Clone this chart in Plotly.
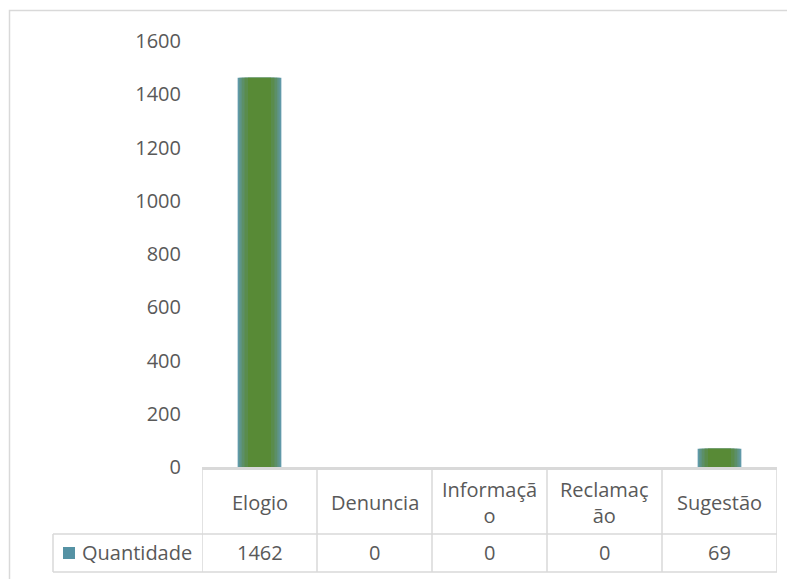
import plotly.graph_objects as go

categorias = ["Elogio", "Denuncia", "Informação", "Reclamação", "Sugestão"]
rotulos = ["Elogio", "Denuncia", "Informaçã<br>o", "Reclamaç<br>ão", "Sugestão"]
quantidade = [1462, 0, 0, 0, 69]
serie = "Quantidade"
y_ticks = [0, 200, 400, 600, 800, 1000, 1200, 1400, 1600]

FONT = "Open Sans"
TXT = "#595959"
GRID = "#d9d9d9"
FS = 20

# page has an 8px body margin, so positions below are page pixels minus 8
OFF = 8
W, H = 795 - OFF, 579 - OFF
L, T = 202 - OFF, 41 - OFF
pw, ph = 575, 426
R, B = W - L - pw, H - T - ph


def px(x):
    return (x - OFF - L) / pw


def py(y):
    return (T + ph - (y - OFF)) / ph


fig = go.Figure()
# pseudo-gradient: teal edges, green centre
for w, c in [(0.38, "#6099a8"), (0.35, "#5e9488"), (0.31, "#5c8f68"),
             (0.26, "#5a8c4c"), (0.2, "#588a36")]:
    fig.add_trace(go.Bar(
        x=list(range(len(categorias))), y=quantidade, width=w,
        marker=dict(color=c, line=dict(width=0)),
        name=serie, showlegend=False, hoverinfo="skip",
    ))

shapes = []
# frame of the chart (right and bottom edges fall outside the window)
shapes.append(dict(type="rect", xref="paper", yref="paper",
                   x0=px(9.5), x1=px(830), y0=py(640), y1=py(10.5),
                   line=dict(color=GRID, width=1.5), layer="below"))
# axis line
shapes.append(dict(type="line", xref="paper", yref="paper",
                   x0=0, x1=1, y0=py(468.5), y1=py(468.5),
                   line=dict(color=GRID, width=3)))
# table horizontal lines
for yy in [534, 572]:
    shapes.append(dict(type="line", xref="paper", yref="paper",
                       x0=px(53), x1=1, y0=py(yy), y1=py(yy),
                       line=dict(color=GRID, width=1.5)))
# table vertical lines
for i in range(len(categorias) + 1):
    shapes.append(dict(type="line", xref="x", yref="paper",
                       x0=i - 0.5, x1=i - 0.5, y0=py(468), y1=py(572),
                       line=dict(color=GRID, width=1.5)))
shapes.append(dict(type="line", xref="paper", yref="paper",
                   x0=px(53), x1=px(53), y0=py(534), y1=py(572),
                   line=dict(color=GRID, width=1.5)))
# legend key
shapes.append(dict(type="rect", xref="paper", yref="paper",
                   x0=px(63), x1=px(75), y0=py(559), y1=py(547),
                   fillcolor="#5592a4", line=dict(width=0)))

annotations = []
for i, (lab, val) in enumerate(zip(rotulos, quantidade)):
    annotations.append(dict(x=i, xref="x", y=py(503), yref="paper", text=lab,
                            showarrow=False, yanchor="middle",
                            font=dict(size=FS, color=TXT, family=FONT)))
    annotations.append(dict(x=i, xref="x", y=py(552), yref="paper", text=str(val),
                            showarrow=False, yanchor="middle",
                            font=dict(size=FS, color=TXT, family=FONT)))
annotations.append(dict(x=px(80), xref="paper", y=py(552), yref="paper", text=serie,
                        showarrow=False, xanchor="left", yanchor="middle",
                        font=dict(size=FS, color=TXT, family=FONT)))

fig.update_layout(
    width=W, height=H,
    margin=dict(l=L, r=R, t=T, b=B),
    paper_bgcolor="white", plot_bgcolor="white",
    barmode="overlay", showlegend=False,
    font=dict(family=FONT, color=TXT, size=FS),
    xaxis=dict(range=[-0.5, len(categorias) - 0.5], showticklabels=False,
               showgrid=False, zeroline=False, showline=False, fixedrange=True),
    yaxis=dict(range=[0, 1600], tickvals=y_ticks, showgrid=False, zeroline=False,
               showline=False, ticks="", ticklabelstandoff=20,
               tickfont=dict(size=FS, color=TXT, family=FONT)),
    shapes=shapes, annotations=annotations,
)

fig.write_html("out.html")
